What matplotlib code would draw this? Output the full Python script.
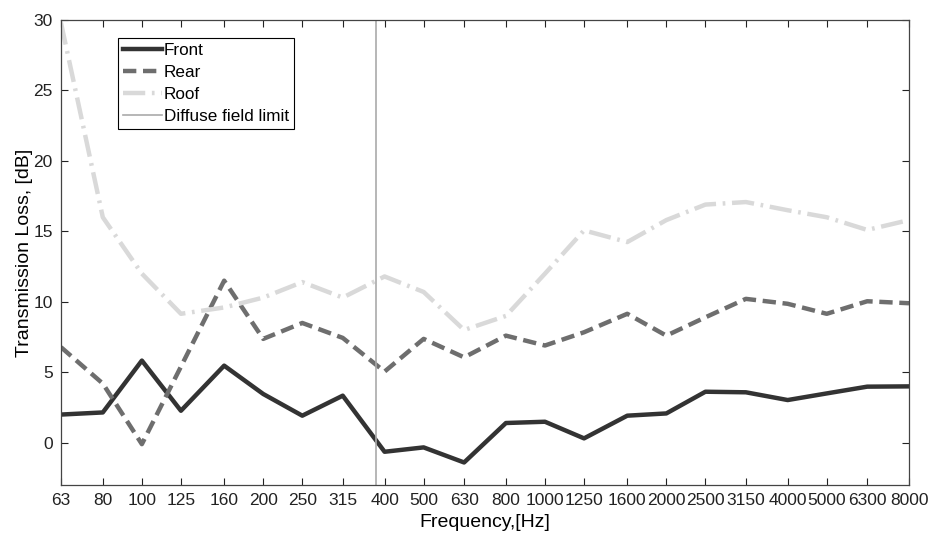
import matplotlib
matplotlib.use('Agg')
import matplotlib.pyplot as plt
from matplotlib.ticker import FixedLocator, FixedFormatter, NullLocator

plt.rcParams['font.family'] = ['Liberation Sans', 'DejaVu Sans']

# Third-octave band centre frequencies
freqs = [63, 80, 100, 125, 160, 200, 250, 315, 400, 500, 630, 800,
         1000, 1250, 1600, 2000, 2500, 3150, 4000, 5000, 6300, 8000]
freq_labels = [str(f) for f in freqs]

front = [2.0, 2.15, 5.83, 2.27, 5.47, 3.46, 1.92, 3.34, -0.64, -0.33, -1.4,
         1.4, 1.49, 0.31, 1.92, 2.08, 3.62, 3.58, 3.03, 3.5, 3.98, 4.0]
rear = [6.78, 4.2, -0.1, 5.4, 11.5, 7.37, 8.5, 7.44, 5.05, 7.37, 6.06,
        7.6, 6.9, 7.84, 9.15, 7.6, 8.9, 10.21, 9.86, 9.15, 10.04, 9.9]
roof = [29.8, 16.0, 12.0, 9.15, 9.6, 10.3, 11.4, 10.3, 11.8, 10.7, 8.0,
        9.0, 12.0, 15.07, 14.24, 15.8, 16.9, 17.08, 16.5, 16.0, 15.1, 15.8]
diffuse_limit = 380

fig = plt.figure(figsize=(9.31, 5.37), dpi=100)
ax = fig.add_axes([0.0655, 0.0968, 0.9109, 0.866])

ax.plot(freqs, front, '-', color='#333333', lw=3.2, label='Front')
ax.plot(freqs, rear, '--', color='#6e6e6e', lw=3.2, dashes=(3, 1.5), label='Rear')
ax.plot(freqs, roof, '-.', color='#d9d9d9', lw=3.2, dashes=(5, 1.5, 0.6, 1.5), label='Roof')
ax.axvline(diffuse_limit, color='#aaaaaa', lw=1.2, label='Diffuse field limit')

ax.set_xscale('log')
ax.set_xlim(63, 8000)
ax.set_ylim(-3, 30)
ax.xaxis.set_major_locator(FixedLocator(freqs))
ax.xaxis.set_major_formatter(FixedFormatter(freq_labels))
ax.xaxis.set_minor_locator(NullLocator())
ax.set_yticks([0, 5, 10, 15, 20, 25, 30])

ax.tick_params(direction='in', top=True, right=True, length=5, width=0.8,
               labelsize=12.5, colors='#222222', pad=6)
for s in ax.spines.values():
    s.set_color('#444444')
    s.set_linewidth(0.9)

ax.set_xlabel('Frequency,[Hz]', fontsize=14, labelpad=4)
ax.set_ylabel('Transmission Loss, [dB]', fontsize=14, labelpad=0)

leg = ax.legend(loc='upper left', bbox_to_anchor=(0.067, 0.961), borderaxespad=0,
                fancybox=False, edgecolor='black', fontsize=12.3, handlelength=2.3,
                handletextpad=0.1, labelspacing=0.4, borderpad=0.3, framealpha=1)
leg.get_frame().set_linewidth(0.8)

fig.savefig('out.png', dpi=100)
